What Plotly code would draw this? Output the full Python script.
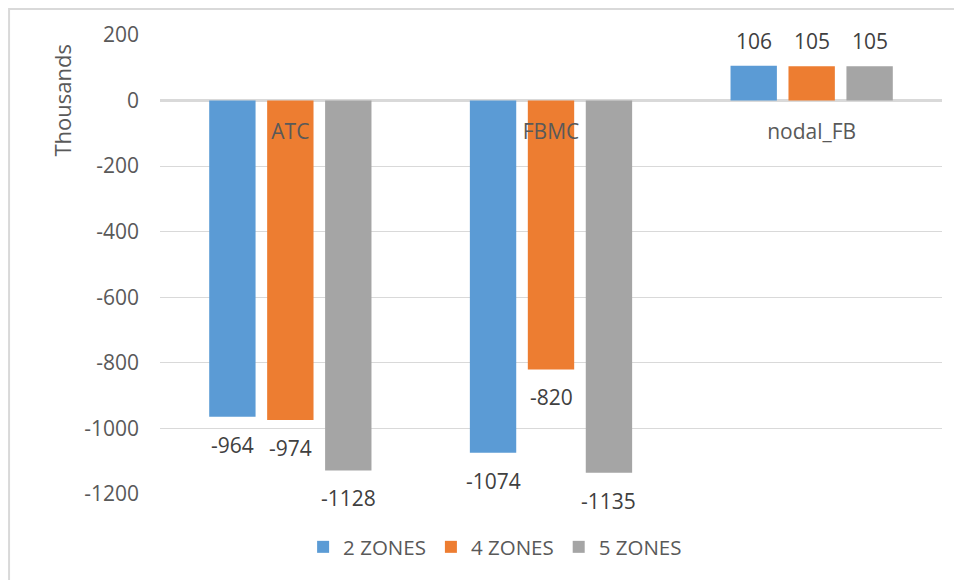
import plotly.graph_objects as go

categories = ["ATC", "FBMC", "nodal_FB"]
series_names = ["2 ZONES", "4 ZONES", "5 ZONES"]
zones2 = [-964, -1074, 106]
zones4 = [-974, -820, 105]
zones5 = [-1128, -1135, 105]
y_ticks = [200, 0, -200, -400, -600, -800, -1000, -1200]

colors = ["#5B9BD5", "#ED7D31", "#A5A5A5"]
FONT = "Open Sans"
TXT = "#595959"
LBL = "#404040"

# page body has an 8px margin, so the figure is sized to fit the window
W, H = 954, 572
ML, MR, MT, MB = 152, 20, 27, 86
BARGAP, GROUPGAP = 0.333, 0.2

fig = go.Figure()
all_series = [zones2, zones4, zones5]
for name, vals, c in zip(series_names, all_series, colors):
    fig.add_trace(go.Bar(name=name, x=categories, y=vals, marker_color=c,
                         marker_line_width=0))

ymin, ymax = -1200, 200
zero_frac = (0 - ymin) / (ymax - ymin)

# data labels (Excel-style offset from bar end)
plot_w = W - ML - MR
slot_px = plot_w / len(categories) * (1 - BARGAP) / len(all_series)
for i, vals in enumerate(all_series):
    for cat, v in zip(categories, vals):
        fig.add_annotation(x=cat, y=v, xref="x", yref="y", text=str(v),
                           showarrow=False, xshift=(i - 1) * slot_px,
                           yshift=25 if v >= 0 else -28, yanchor="middle",
                           font=dict(family=FONT, size=21, color=LBL))

fig.update_layout(
    template="none",
    width=W, height=H,
    margin=dict(l=ML, r=MR, t=MT, b=MB),
    paper_bgcolor="white", plot_bgcolor="white",
    barmode="group", bargap=BARGAP, bargroupgap=GROUPGAP,
    font=dict(family=FONT, size=21, color=TXT),
    showlegend=True,
    legend=dict(orientation="h", x=0.183, xanchor="left", y=-0.1155, yanchor="middle",
                font=dict(family=FONT, size=20.5, color=TXT), itemwidth=30,
                traceorder="normal", bgcolor="rgba(0,0,0,0)"),
    yaxis=dict(range=[ymin, ymax], tickvals=y_ticks, ticktext=[str(v) for v in y_ticks],
               showgrid=True, gridcolor="#D9D9D9", gridwidth=1.3, zeroline=True,
               zerolinecolor="#D9D9D9", zerolinewidth=2.7, ticks="", showline=False,
               automargin=False,
               tickfont=dict(family=FONT, size=21, color=TXT), ticklabelstandoff=20),
    xaxis=dict(anchor="free", position=zero_frac, showline=False, ticks="",
               showgrid=False, zeroline=False, automargin=False,
               tickfont=dict(family=FONT, size=21, color=TXT), ticklabelstandoff=16),
)

fig.add_annotation(text="Thousands", xref="paper", yref="y", x=-0.1253, y=0,
                   xanchor="center", yanchor="middle",
                   textangle=-90, showarrow=False,
                   font=dict(family=FONT, size=22, color=TXT))

fig.add_shape(type="rect", xref="paper", yref="paper",
              x0=-0.1930, x1=1.05, y0=-0.25, y1=1.0566,
              line=dict(color="#D9D9D9", width=2), fillcolor="rgba(0,0,0,0)",
              layer="below")

fig.write_html("out.html")
